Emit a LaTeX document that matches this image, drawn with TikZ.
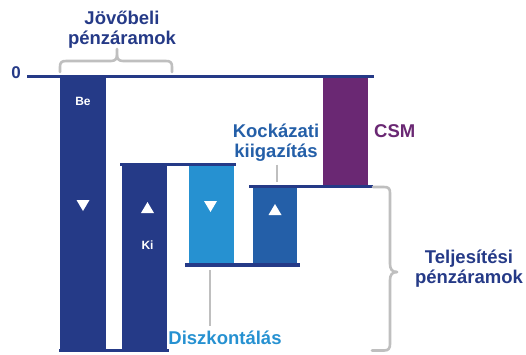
\documentclass[tikz,border=0pt]{standalone}
\usepackage{fontspec}
\setmainfont{Liberation Sans}
\definecolor{navy}{HTML}{253A87}
\definecolor{lblue}{HTML}{2691D1}
\definecolor{mblue}{HTML}{245FA8}
\definecolor{purp}{HTML}{6A2873}
\definecolor{gry}{HTML}{BFBFBF}
\newcommand{\twoline}[2]{\vtop{\halign{\hfil##\hfil\cr #1\cr #2\cr}}}
\tikzset{
  bar/.style={fill=#1, draw=none},
  hline/.style={draw=navy, line width=3.2pt},
  conn/.style={draw=gry, line width=2.8pt},
  brc/.style={draw=gry, line width=2.6pt, line cap=round},
  tri/.style={fill=white, draw=none},
  lbl/.style={font=\fontsize{18.5}{20.5}\selectfont\bfseries, inner sep=0pt},
  small/.style={font=\fontsize{12}{14}\selectfont\bfseries, text=white, inner sep=0pt}
}
\begin{document}
\begin{tikzpicture}[x=1pt,y=-1pt]
\useasboundingbox (0,0) rectangle (526,354);
% bars
\fill[navy] (60,76) rectangle (106,350);
\fill[navy] (122,164) rectangle (167,350);
\fill[lblue] (189,164) rectangle (234,265);
\fill[mblue] (253,186) rectangle (297,265);
\fill[purp] (323,76) rectangle (368,186);
% horizontal lines
\draw[hline] (27,76.5) -- (374,76.5);
\draw[hline] (120,164.5) -- (236,164.5);
\draw[hline] (249,186.5) -- (373,186.5);
\draw[hline] (185,265) -- (300,265);
\draw[hline] (59,350.5) -- (169,350.5);
% triangles
\fill[tri] (76.5,200) -- (89.5,200) -- (83,211) -- cycle;
\fill[tri] (141,213) -- (154,213) -- (147.5,202) -- cycle;
\fill[tri] (204,201) -- (217,201) -- (210.5,212) -- cycle;
\fill[tri] (268.5,215) -- (281.5,215) -- (275,204) -- cycle;
% small labels
\node[small] (be) at (83,101) {Be};
\node[small] (ki) at (147.5,245) {Ki};
\node[lbl, text=navy] (zero) at (16,73) {\fontsize{17}{17}\selectfont 0};
% labels
\node[lbl, text=navy, anchor=base] (jov) at (122,24) {\twoline{Jövőbeli}{pénzáramok}};
\node[lbl, text=mblue, anchor=base] (kock) at (276,137) {\twoline{Kockázati}{kiigazítás}};
\node[lbl, text=purp, anchor=base west] (csm) at (374,137) {CSM};
\node[lbl, text=navy, anchor=base] (telj) at (469,263) {\twoline{Teljesítési}{pénzáramok}};
\node[lbl, text=lblue, anchor=base] (disz) at (225,344) {Diszkontálás};
% connectors
\coordinate (kend) at (277,182);
\coordinate (dtop) at (210,270);
\draw[conn] (kend |- kock.south) ++(0,3) -- (kend);
\draw[conn] (dtop) -- ([yshift=4pt]dtop |- disz.north);
% top brace
\draw[brc] (60,72) -- (60,67) .. controls (60,62.5) and (61.5,61) .. (66,61) -- (111,61)
  .. controls (115,61) and (117,59) .. (117,55) -- (117,49);
\draw[brc] (117,55) .. controls (117,59) and (119,61) .. (123,61) -- (166,61)
  .. controls (170.5,61) and (172,62.5) .. (172,67) -- (172,72);
% right brace
\draw[brc] (373,187) -- (384,187) .. controls (388.5,187) and (390,188.5) .. (390,193) -- (390,264)
  .. controls (390,269) and (392,272) .. (397,272);
\draw[brc] (397,272) .. controls (392,272) and (390,275) .. (390,280) -- (390,344)
  .. controls (390,348.5) and (388.5,350.5) .. (384,350.5) -- (372,350.5);
\end{tikzpicture}
\end{document}
